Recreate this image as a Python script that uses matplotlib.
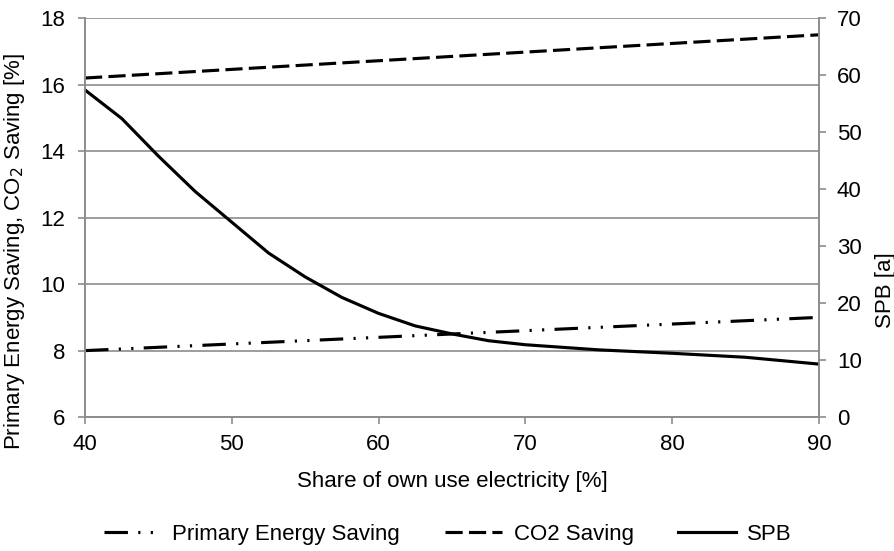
import numpy as np
import matplotlib.pyplot as plt

plt.rcParams['font.family'] = ['Liberation Sans', 'DejaVu Sans']
plt.rcParams['font.size'] = 16

# share of own use electricity [%]
share = [40, 45, 50, 55, 60, 65, 70, 75, 80, 85, 90]
pes = [8.0, 8.1, 8.2, 8.3, 8.4, 8.5, 8.6, 8.7, 8.8, 8.9, 9.0]
co2 = [16.2, 16.33, 16.46, 16.59, 16.72, 16.85, 16.98, 17.11, 17.24, 17.37, 17.5]

# simple payback, sampled more finely along the curve
spb_share = [40, 42.5, 45, 47.5, 50, 52.5, 55, 57.5, 60, 62.5, 65, 67.5, 70, 75, 80, 85, 90]
spb = [57.4, 52.4, 45.8, 39.6, 34.2, 28.8, 24.6, 21.0, 18.2, 16.0, 14.6, 13.4, 12.7,
       11.8, 11.2, 10.5, 9.3]

grey = '#8c8c8c'

fig = plt.figure(figsize=(8.95, 5.51), dpi=100)
ax = fig.add_axes([0.095, 0.243, 0.82, 0.724])
ax2 = ax.twinx()

ax.plot(share, pes, color='black', lw=2.25, dashes=(7.5, 3.3, 0.7, 3.3, 0.7, 3.3),
        label='Primary Energy Saving')
ax.plot(share, co2, color='black', lw=2.25, dashes=(5.5, 2.0), label='CO2 Saving')
ax2.plot(spb_share, spb, color='black', lw=2.25, label='SPB')

ax.set_xlim(40, 90)
ax.set_ylim(6, 18)
ax.set_xticks(np.arange(40, 91, 10))
ax.set_yticks(np.arange(6, 19, 2))
ax2.set_ylim(0, 70)
ax2.set_yticks(np.arange(0, 71, 10))

ax.yaxis.grid(True, color=grey, lw=1.2)
ax.set_axisbelow(True)

for a in (ax, ax2):
    a.spines['top'].set_visible(False)
    for s in ('left', 'right', 'bottom'):
        a.spines[s].set_color(grey)
        a.spines[s].set_linewidth(1.2)
    a.tick_params(color=grey, length=5, width=1.2, labelcolor='black')
ax.tick_params(axis='y', pad=9)
ax.tick_params(axis='x', pad=7)
ax2.tick_params(axis='y', pad=8)

ax.set_xlabel('Share of own use electricity [%]')
ax.xaxis.set_label_coords(0.5, -0.135)
ax.set_ylabel('Primary Energy Saving, CO$_2$ Saving [%]')
ax.yaxis.set_label_coords(-0.079, 0.414)
ax2.set_ylabel('SPB [a]')
ax2.yaxis.set_label_coords(1.077, 0.318)

h1, l1 = ax.get_legend_handles_labels()
h2, l2 = ax2.get_legend_handles_labels()
fig.legend(h1 + h2, l1 + l2, loc='center', bbox_to_anchor=(0.5, 0.03), ncol=3,
           frameon=False, handlelength=2.6, columnspacing=2.0, handletextpad=0.5)

fig.savefig('out.png', dpi=100)
